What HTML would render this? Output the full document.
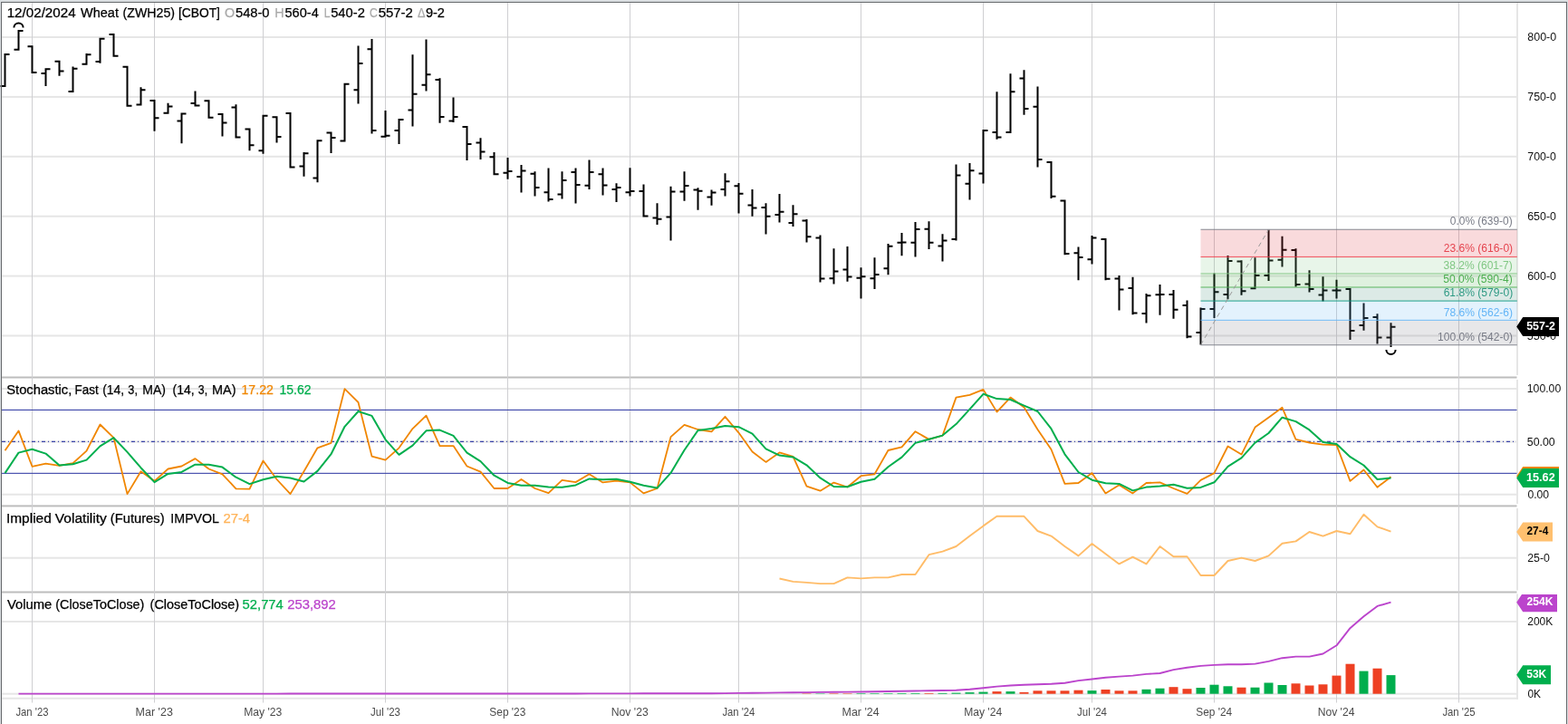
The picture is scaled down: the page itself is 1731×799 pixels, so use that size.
<!DOCTYPE html>
<html lang="en"><head><meta charset="utf-8"><title>Wheat (ZWH25) Chart</title>
<style>html,body{margin:0;padding:0;background:#fff;overflow:hidden}body{width:1731px;height:799px;font-family:"Liberation Sans",sans-serif}</style>
</head><body>
<svg width="1731" height="799" viewBox="0 0 1731 799" font-family="'Liberation Sans', sans-serif" style="display:block"><rect x="0" y="0" width="1731" height="799" fill="#ffffff"/>
<rect x="0" y="0" width="1731" height="2" fill="#dbdfe2"/>
<rect x="0" y="0" width="1" height="799" fill="#dbdfe2"/>
<rect x="1730" y="0" width="1" height="799" fill="#dbdfe2"/>
<rect x="2" y="40.0" width="1672.5" height="2" fill="#e6e6e6"/>
<rect x="2" y="105.9" width="1672.5" height="2" fill="#e6e6e6"/>
<rect x="2" y="171.8" width="1672.5" height="2" fill="#e6e6e6"/>
<rect x="2" y="237.7" width="1672.5" height="2" fill="#e6e6e6"/>
<rect x="2" y="303.6" width="1672.5" height="2" fill="#e6e6e6"/>
<rect x="2" y="369.5" width="1672.5" height="2" fill="#e6e6e6"/>
<rect x="2" y="428.0" width="1672.5" height="2" fill="#e6e6e6"/>
<rect x="2" y="486.5" width="1672.5" height="2" fill="#e6e6e6"/>
<rect x="2" y="544.7" width="1672.5" height="2" fill="#e6e6e6"/>
<rect x="2" y="614.7" width="1672.5" height="2" fill="#e6e6e6"/>
<rect x="2" y="685.0" width="1672.5" height="2" fill="#e6e6e6"/>
<rect x="2" y="764.7" width="1672.5" height="2" fill="#e6e6e6"/>
<rect x="2" y="415.5" width="1672.5" height="2" fill="#bdbdbd"/>
<rect x="2" y="557.4" width="1672.5" height="2" fill="#bdbdbd"/>
<rect x="2" y="652.5" width="1672.5" height="2" fill="#bdbdbd"/>
<rect x="2" y="769.7" width="1674" height="2" fill="#e6e6e6"/>
<rect x="1674" y="3" width="2" height="411" fill="#e6e6e6"/>
<rect x="1674" y="419" width="2" height="137" fill="#e6e6e6"/>
<rect x="1674" y="561" width="2" height="90.5" fill="#e6e6e6"/>
<rect x="1674" y="655.5" width="2" height="116.20000000000005" fill="#e6e6e6"/>
<rect x="35.0" y="3" width="1" height="772.5" fill="#cfcfd2"/>
<rect x="170.0" y="3" width="1" height="772.5" fill="#cfcfd2"/>
<rect x="290.0" y="3" width="1" height="772.5" fill="#cfcfd2"/>
<rect x="425.0" y="3" width="1" height="772.5" fill="#cfcfd2"/>
<rect x="560.0" y="3" width="1" height="772.5" fill="#cfcfd2"/>
<rect x="695.0" y="3" width="1" height="772.5" fill="#cfcfd2"/>
<rect x="815.0" y="3" width="1" height="772.5" fill="#cfcfd2"/>
<rect x="950.0" y="3" width="1" height="772.5" fill="#cfcfd2"/>
<rect x="1085.0" y="3" width="1" height="772.5" fill="#cfcfd2"/>
<rect x="1205.0" y="3" width="1" height="772.5" fill="#cfcfd2"/>
<rect x="1340.0" y="3" width="1" height="772.5" fill="#cfcfd2"/>
<rect x="1475.0" y="3" width="1" height="772.5" fill="#cfcfd2"/>
<rect x="1610.0" y="3" width="1" height="772.5" fill="#cfcfd2"/>
<rect x="2" y="451.9" width="1672.5" height="1.1" fill="#3b44a9"/>
<rect x="2" y="521.8" width="1672.5" height="1.1" fill="#3b44a9"/>
<line x1="2" y1="487.4" x2="1674" y2="487.4" stroke="#3b44a9" stroke-width="1.2" stroke-dasharray="4 3 1 3"/>
<path d="M5.5 59.5V95.4M0.5 95.0H6.5M4.5 60.0H10.5M20.5 33.0V55.5M15.5 54.7H21.5M19.5 33.9H25.5M35.5 50.8V80.7M30.5 51.2H36.5M34.5 80.1H40.5M50.5 75.5V94.9M45.5 81.0H51.5M49.5 76.3H55.5M65.5 67.1V83.8M60.5 67.8H66.5M64.5 78.4H70.5M80.5 73.4V101.5M75.5 100.9H81.5M79.5 75.8H85.5M95.5 59.0V71.5M90.5 70.8H96.5M94.5 60.2H100.5M110.5 41.7V69.7M105.5 68.0H111.5M109.5 42.7H115.5M125.5 37.3V62.5M120.5 38.0H126.5M124.5 61.8H130.5M140.5 72.9V117.4M135.5 73.7H141.5M139.5 116.7H145.5M155.5 96.3V116.2M150.5 115.5H156.5M154.5 99.2H160.5M170.5 110.1V144.8M165.5 111.0H171.5M169.5 130.2H175.5M185.5 113.8V125.4M180.5 124.7H186.5M184.5 117.6H190.5M200.5 124.7V158.3M195.5 133.4H201.5M199.5 125.4H205.5M215.5 100.5V117.3M210.5 114.0H216.5M214.5 116.6H220.5M230.5 110.7V130.3M225.5 111.2H231.5M229.5 129.7H235.5M245.5 125.4V150.5M240.5 125.9H246.5M244.5 135.5H250.5M260.5 115.2V152.3M255.5 118.5H261.5M259.5 151.6H265.5M275.5 141.9V166.3M270.5 142.4H276.5M274.5 160.2H280.5M290.5 127.1V169.8M285.5 166.3H291.5M289.5 127.8H295.5M305.5 128.5V157.5M300.5 129.2H306.5M304.5 151.1H310.5M320.5 124.5V185.2M315.5 125.1H321.5M319.5 184.5H325.5M335.5 168.0V194.7M330.5 183.6H336.5M334.5 169.3H340.5M350.5 154.5V201.3M345.5 196.5H351.5M349.5 155.2H355.5M365.5 145.9V168.9M360.5 146.6H366.5M364.5 151.9H370.5M380.5 92.1V156.6M375.5 155.4H381.5M379.5 92.8H385.5M395.5 50.5V114.4M390.5 99.3H396.5M394.5 69.9H400.5M410.5 43.0V147.5M405.5 54.3H411.5M409.5 143.9H415.5M425.5 121.9V151.3M420.5 150.8H426.5M424.5 149.8H430.5M440.5 131.4V159.1M435.5 143.9H441.5M439.5 132.1H445.5M455.5 60.3V139.5M450.5 121.5H456.5M454.5 103.7H460.5M470.5 43.5V100.5M465.5 93.8H471.5M469.5 82.2H475.5M485.5 86.3V135.7M480.5 88.1H486.5M484.5 129.0H490.5M500.5 107.5V134.9M495.5 133.5H501.5M499.5 129.0H505.5M515.5 139.2V176.9M510.5 139.9H516.5M514.5 159.0H520.5M530.5 152.3V176.1M525.5 157.4H531.5M529.5 167.4H535.5M545.5 167.9V192.7M540.5 173.3H546.5M544.5 192.2H550.5M560.5 174.0V197.7M555.5 190.8H561.5M559.5 189.1H565.5M575.5 182.1V212.5M570.5 195.1H576.5M574.5 188.4H580.5M590.5 189.2V216.5M585.5 191.7H591.5M589.5 206.9H595.5M605.5 185.6V222.5M600.5 212.3H606.5M604.5 220.1H610.5M620.5 189.2V219.6M615.5 214.5H621.5M619.5 199.0H625.5M635.5 185.4V224.6M630.5 189.9H636.5M634.5 204.0H640.5M650.5 176.6V209.0M645.5 204.8H651.5M649.5 189.9H655.5M665.5 185.4V215.6M660.5 192.2H666.5M664.5 204.5H670.5M680.5 202.2V223.0M675.5 209.0H681.5M679.5 206.9H685.5M695.5 185.3V216.5M690.5 212.3H696.5M694.5 211.1H700.5M710.5 203.5V239.0M705.5 211.1H711.5M709.5 238.5H715.5M725.5 224.3V248.0M720.5 240.5H726.5M724.5 241.8H730.5M740.5 205.7V265.5M735.5 239.5H741.5M739.5 211.6H745.5M755.5 189.2V221.7M750.5 211.6H756.5M754.5 205.0H760.5M770.5 207.3V231.7M765.5 209.5H771.5M769.5 210.7H775.5M785.5 209.4V226.7M780.5 217.6H786.5M784.5 212.6H790.5M800.5 191.3V216.6M795.5 209.0H801.5M799.5 200.2H805.5M815.5 201.9V235.5M810.5 205.2H816.5M814.5 213.7H820.5M830.5 209.0V238.7M825.5 226.5H831.5M829.5 229.5H835.5M845.5 224.3V258.6M840.5 229.0H846.5M844.5 238.8H850.5M860.5 214.0V245.6M855.5 236.9H861.5M859.5 233.8H865.5M875.5 226.2V249.9M870.5 245.9H876.5M874.5 236.2H880.5M890.5 241.9V267.5M885.5 243.4H891.5M889.5 261.3H895.5M905.5 259.4V311.6M900.5 262.4H906.5M904.5 307.4H910.5M920.5 274.3V313.4M915.5 307.2H921.5M919.5 299.5H925.5M935.5 272.1V310.7M930.5 297.4H936.5M934.5 305.6H940.5M950.5 295.2V329.5M945.5 306.8H951.5M949.5 305.3H955.5M965.5 284.3V319.1M960.5 307.2H966.5M964.5 303.1H970.5M980.5 268.9V303.3M975.5 296.3H981.5M979.5 271.8H985.5M995.5 257.0V282.2M990.5 267.7H996.5M994.5 267.5H1000.5M1010.5 244.9V283.6M1005.5 267.7H1011.5M1009.5 253.1H1015.5M1025.5 244.3V274.9M1020.5 252.7H1026.5M1024.5 267.7H1030.5M1040.5 258.3V288.5M1035.5 271.4H1041.5M1039.5 265.6H1045.5M1055.5 181.5V265.4M1050.5 264.0H1056.5M1054.5 193.5H1060.5M1070.5 180.1V220.6M1065.5 202.7H1071.5M1069.5 188.2H1075.5M1085.5 143.3V202.5M1080.5 191.4H1086.5M1084.5 144.0H1090.5M1100.5 101.2V153.7M1095.5 145.9H1101.5M1099.5 151.5H1105.5M1115.5 81.3V146.3M1110.5 145.9H1116.5M1114.5 101.2H1120.5M1130.5 77.3V126.8M1125.5 86.6H1131.5M1129.5 120.1H1135.5M1145.5 95.6V184.5M1140.5 117.7H1146.5M1144.5 176.0H1150.5M1160.5 178.5V219.0M1155.5 179.0H1161.5M1159.5 216.8H1165.5M1175.5 221.1V281.2M1170.5 221.6H1176.5M1174.5 280.0H1180.5M1190.5 272.4V309.2M1185.5 279.2H1191.5M1189.5 284.0H1195.5M1205.5 260.1V291.4M1200.5 286.3H1206.5M1204.5 262.4H1210.5M1220.5 263.4V309.2M1215.5 264.0H1221.5M1219.5 307.8H1225.5M1235.5 304.0V342.5M1230.5 307.5H1236.5M1234.5 319.6H1240.5M1250.5 305.7V347.3M1245.5 317.9H1251.5M1249.5 345.6H1255.5M1265.5 323.9V356.5M1260.5 346.1H1266.5M1264.5 326.2H1270.5M1280.5 314.0V347.8M1275.5 325.3H1281.5M1279.5 325.0H1285.5M1295.5 319.9V351.7M1290.5 325.1H1296.5M1294.5 341.8H1300.5M1310.5 331.4V373.3M1305.5 336.9H1311.5M1309.5 371.6H1315.5M1325.5 339.5V380.6M1320.5 366.9H1326.5M1324.5 340.9H1330.5M1340.5 301.4V351.1M1335.5 340.9H1341.5M1339.5 322.2H1345.5M1355.5 282.0V330.3M1350.5 325.0H1356.5M1354.5 288.0H1360.5M1370.5 287.2V325.7M1365.5 288.6H1371.5M1369.5 321.2H1375.5M1385.5 284.3V319.1M1380.5 318.3H1386.5M1384.5 304.1H1390.5M1400.5 253.6V310.0M1395.5 304.1H1401.5M1399.5 287.6H1405.5M1415.5 260.8V294.5M1410.5 286.8H1416.5M1414.5 275.8H1420.5M1430.5 274.2V316.4M1425.5 275.9H1431.5M1429.5 314.0H1435.5M1445.5 298.3V322.6M1440.5 313.6H1446.5M1444.5 319.0H1450.5M1460.5 305.3V332.5M1455.5 325.6H1461.5M1459.5 320.4H1465.5M1475.5 308.8V329.6M1470.5 320.4H1476.5M1474.5 320.4H1480.5M1490.5 318.4V374.9M1485.5 318.9H1491.5M1489.5 364.9H1495.5M1505.5 334.5V364.7M1500.5 359.1H1506.5M1504.5 350.9H1510.5M1520.5 346.2V379.5M1515.5 350.1H1521.5M1519.5 372.6H1525.5M1535.5 356.2V383.0M1530.5 372.6H1536.5M1534.5 360.7H1540.5" stroke="#000" stroke-width="2" fill="none"/>
<path d="M15.4 30.6A5.1 5.1 0 0 1 25.6 30.6" stroke="#000" stroke-width="2" fill="none"/>
<path d="M1530.4 385.9A5.1 5.1 0 0 0 1540.6 385.9" stroke="#000" stroke-width="2" fill="none"/>
<rect x="1325.5" y="253.3" width="349.3" height="30.2" fill="#e0323d" fill-opacity="0.18"/>
<rect x="1325.5" y="283.5" width="349.3" height="18.4" fill="#81c784" fill-opacity="0.18"/>
<rect x="1325.5" y="301.9" width="349.3" height="15.1" fill="#4caf50" fill-opacity="0.18"/>
<rect x="1325.5" y="317" width="349.3" height="15.1" fill="#3c8a74" fill-opacity="0.18"/>
<rect x="1325.5" y="332.1" width="349.3" height="21.3" fill="#64b5f6" fill-opacity="0.18"/>
<rect x="1325.5" y="353.4" width="349.3" height="27.3" fill="#787b86" fill-opacity="0.18"/>
<rect x="1325.5" y="252.7" width="349.3" height="1.2" fill="#787b86" fill-opacity="0.75"/>
<rect x="1325.5" y="282.9" width="349.3" height="1.2" fill="#f23645" fill-opacity="0.75"/>
<rect x="1325.5" y="301.3" width="349.3" height="1.2" fill="#81c784" fill-opacity="0.75"/>
<rect x="1325.5" y="316.4" width="349.3" height="1.2" fill="#4caf50" fill-opacity="0.75"/>
<rect x="1325.5" y="331.5" width="349.3" height="1.2" fill="#089981" fill-opacity="0.75"/>
<rect x="1325.5" y="352.8" width="349.3" height="1.2" fill="#64b5f6" fill-opacity="0.75"/>
<rect x="1325.5" y="380.1" width="349.3" height="1.2" fill="#787b86" fill-opacity="0.75"/>
<line x1="1325.5" y1="380.6" x2="1400.5" y2="253.4" stroke="#9a9a9a" stroke-width="1" stroke-dasharray="5 4"/>
<polyline points="5.5,497.2 20.5,475.4 35.5,514.8 50.5,511.6 65.5,513.9 80.5,511.2 95.5,497.6 110.5,468.5 125.5,483.1 140.5,545.1 155.5,520.3 170.5,530.8 185.5,517.5 200.5,514.5 215.5,506.1 230.5,517.5 245.5,523.3 260.5,539.3 275.5,539.7 290.5,508.5 305.5,529.0 320.5,545.1 335.5,520.3 350.5,494.3 365.5,488.9 380.5,429.2 395.5,444.0 410.5,503.6 425.5,507.6 440.5,494.3 455.5,473.1 470.5,458.6 485.5,492.1 500.5,492.1 515.5,514.5 530.5,520.6 545.5,539.0 560.5,539.0 575.5,529.0 590.5,539.0 605.5,544.2 620.5,529.9 635.5,532.1 650.5,523.3 665.5,532.4 680.5,530.6 695.5,532.4 710.5,544.4 725.5,539.0 740.5,482.2 755.5,468.9 770.5,474.0 785.5,476.3 800.5,459.8 815.5,477.6 830.5,498.5 845.5,509.9 860.5,499.4 875.5,503.9 890.5,536.6 905.5,541.7 920.5,532.6 935.5,537.5 950.5,525.2 965.5,523.3 980.5,497.0 995.5,493.4 1010.5,476.2 1025.5,484.9 1040.5,480.7 1055.5,438.6 1070.5,435.9 1085.5,429.9 1100.5,454.6 1115.5,438.6 1130.5,449.5 1145.5,474.0 1160.5,496.0 1175.5,533.9 1190.5,533.0 1205.5,522.1 1220.5,544.4 1235.5,535.3 1250.5,544.4 1265.5,533.0 1280.5,532.4 1295.5,539.0 1310.5,544.8 1325.5,529.9 1340.5,522.1 1355.5,492.5 1370.5,501.6 1385.5,471.6 1400.5,460.7 1415.5,449.8 1430.5,484.9 1445.5,488.5 1460.5,490.7 1475.5,491.1 1490.5,530.9 1505.5,518.5 1520.5,537.7 1535.5,526.2" stroke="#f08600" stroke-width="1.8" fill="none" stroke-linejoin="round"/>
<polyline points="5.5,522.1 20.5,499.6 35.5,495.8 50.5,500.6 65.5,513.4 80.5,512.2 95.5,507.6 110.5,492.4 125.5,483.1 140.5,498.9 155.5,516.2 170.5,532.1 185.5,522.9 200.5,520.9 215.5,512.7 230.5,512.7 245.5,515.6 260.5,526.7 275.5,534.1 290.5,529.2 305.5,525.7 320.5,527.5 335.5,531.5 350.5,519.9 365.5,501.2 380.5,470.8 395.5,454.0 410.5,458.9 425.5,485.1 440.5,501.8 455.5,491.7 470.5,475.3 485.5,474.6 500.5,480.9 515.5,499.6 530.5,509.1 545.5,524.7 560.5,532.9 575.5,535.7 590.5,535.7 605.5,537.4 620.5,537.7 635.5,535.4 650.5,528.4 665.5,529.3 680.5,528.8 695.5,531.8 710.5,535.8 725.5,538.6 740.5,521.9 755.5,496.7 770.5,475.0 785.5,473.1 800.5,470.0 815.5,471.2 830.5,478.6 845.5,495.3 860.5,502.6 875.5,504.4 890.5,513.3 905.5,527.4 920.5,537.0 935.5,537.3 950.5,531.8 965.5,528.7 980.5,515.2 995.5,504.6 1010.5,488.9 1025.5,484.8 1040.5,480.6 1055.5,468.1 1070.5,451.7 1085.5,434.8 1100.5,440.1 1115.5,441.0 1130.5,447.6 1145.5,454.0 1160.5,473.2 1175.5,501.3 1190.5,521.0 1205.5,529.7 1220.5,533.2 1235.5,533.9 1250.5,541.4 1265.5,537.6 1280.5,536.6 1295.5,534.8 1310.5,538.7 1325.5,537.9 1340.5,532.3 1355.5,514.8 1370.5,505.4 1385.5,488.6 1400.5,478.0 1415.5,460.7 1430.5,465.1 1445.5,474.4 1460.5,488.0 1475.5,490.1 1490.5,504.2 1505.5,513.5 1520.5,529.0 1535.5,527.5" stroke="#00ae4d" stroke-width="2.0" fill="none" stroke-linejoin="round"/>
<polyline points="860.5,638.5 875.5,641.9 890.5,642.9 905.5,644.1 920.5,644.1 935.5,637.4 950.5,638.4 965.5,637.4 980.5,637.4 995.5,634.0 1010.5,634.0 1025.5,612.2 1040.5,608.6 1055.5,603.0 1070.5,591.6 1085.5,580.4 1100.5,569.8 1115.5,569.8 1130.5,569.8 1145.5,586.0 1160.5,591.6 1175.5,603.0 1190.5,613.4 1205.5,600.0 1220.5,611.2 1235.5,622.4 1250.5,614.6 1265.5,622.4 1280.5,603.0 1295.5,614.2 1310.5,614.2 1325.5,635.0 1340.5,635.0 1355.5,619.0 1370.5,615.6 1385.5,619.0 1400.5,613.4 1415.5,599.8 1430.5,597.4 1445.5,587.0 1460.5,591.6 1475.5,586.0 1490.5,589.2 1505.5,567.8 1520.5,581.4 1535.5,586.6" stroke="#ffbc68" stroke-width="1.9" fill="none" stroke-linejoin="round"/>
<rect x="885.5" y="765.3" width="10" height="0.4" fill="#ee4023"/>
<rect x="900.5" y="765.3" width="10" height="0.4" fill="#00ae4d"/>
<rect x="915.5" y="765.2" width="10" height="0.5" fill="#ee4023"/>
<rect x="930.5" y="765.2" width="10" height="0.5" fill="#ee4023"/>
<rect x="945.5" y="765.1" width="10" height="0.6" fill="#00ae4d"/>
<rect x="960.5" y="765.1" width="10" height="0.6" fill="#00ae4d"/>
<rect x="975.5" y="765.1" width="10" height="0.6" fill="#00ae4d"/>
<rect x="990.5" y="765.0" width="10" height="0.7" fill="#00ae4d"/>
<rect x="1005.5" y="765.0" width="10" height="0.7" fill="#00ae4d"/>
<rect x="1020.5" y="765.0" width="10" height="0.7" fill="#ee4023"/>
<rect x="1035.5" y="764.9" width="10" height="0.8" fill="#00ae4d"/>
<rect x="1050.5" y="764.6" width="10" height="1.1" fill="#00ae4d"/>
<rect x="1065.5" y="764.1" width="10" height="1.6" fill="#00ae4d"/>
<rect x="1080.5" y="763.6" width="10" height="2.1" fill="#00ae4d"/>
<rect x="1095.5" y="763.1" width="10" height="2.6" fill="#ee4023"/>
<rect x="1110.5" y="763.1" width="10" height="2.6" fill="#00ae4d"/>
<rect x="1125.5" y="763.9" width="10" height="1.8" fill="#ee4023"/>
<rect x="1140.5" y="762.3" width="10" height="3.4" fill="#ee4023"/>
<rect x="1155.5" y="762.3" width="10" height="3.4" fill="#ee4023"/>
<rect x="1170.5" y="762.3" width="10" height="3.4" fill="#ee4023"/>
<rect x="1185.5" y="761.7" width="10" height="4.0" fill="#ee4023"/>
<rect x="1200.5" y="762.1" width="10" height="3.6" fill="#00ae4d"/>
<rect x="1215.5" y="761.0" width="10" height="4.7" fill="#ee4023"/>
<rect x="1230.5" y="762.3" width="10" height="3.4" fill="#ee4023"/>
<rect x="1245.5" y="762.3" width="10" height="3.4" fill="#ee4023"/>
<rect x="1260.5" y="760.8" width="10" height="4.9" fill="#00ae4d"/>
<rect x="1275.5" y="759.7" width="10" height="6.0" fill="#00ae4d"/>
<rect x="1290.5" y="758.2" width="10" height="7.5" fill="#ee4023"/>
<rect x="1305.5" y="760.2" width="10" height="5.5" fill="#ee4023"/>
<rect x="1320.5" y="759.0" width="10" height="6.7" fill="#00ae4d"/>
<rect x="1335.5" y="755.7" width="10" height="10.0" fill="#00ae4d"/>
<rect x="1350.5" y="757.3" width="10" height="8.4" fill="#00ae4d"/>
<rect x="1365.5" y="758.7" width="10" height="7.0" fill="#ee4023"/>
<rect x="1380.5" y="758.7" width="10" height="7.0" fill="#00ae4d"/>
<rect x="1395.5" y="753.5" width="10" height="12.2" fill="#00ae4d"/>
<rect x="1410.5" y="756.0" width="10" height="9.7" fill="#00ae4d"/>
<rect x="1425.5" y="754.3" width="10" height="11.4" fill="#ee4023"/>
<rect x="1440.5" y="756.5" width="10" height="9.2" fill="#ee4023"/>
<rect x="1455.5" y="755.3" width="10" height="10.4" fill="#ee4023"/>
<rect x="1470.5" y="745.6" width="10" height="20.1" fill="#ee4023"/>
<rect x="1485.5" y="732.7" width="10" height="33.0" fill="#ee4023"/>
<rect x="1500.5" y="740.6" width="10" height="25.1" fill="#00ae4d"/>
<rect x="1515.5" y="737.7" width="10" height="28.0" fill="#ee4023"/>
<rect x="1530.5" y="745.1" width="10" height="20.6" fill="#00ae4d"/>
<polyline points="20.5,765.6 35.5,765.6 50.5,765.6 65.5,765.6 80.5,765.6 95.5,765.6 110.5,765.6 125.5,765.6 140.5,765.6 155.5,765.6 170.5,765.6 185.5,765.6 200.5,765.6 215.5,765.6 230.5,765.6 245.5,765.6 260.5,765.6 275.5,765.6 290.5,765.6 305.5,765.6 320.5,765.5 335.5,765.5 350.5,765.5 365.5,765.5 380.5,765.5 395.5,765.5 410.5,765.5 425.5,765.5 440.5,765.5 455.5,765.5 470.5,765.5 485.5,765.5 500.5,765.5 515.5,765.5 530.5,765.5 545.5,765.5 560.5,765.5 575.5,765.5 590.5,765.5 605.5,765.5 620.5,765.5 635.5,765.5 650.5,765.4 665.5,765.4 680.5,765.4 695.5,765.4 710.5,765.3 725.5,765.3 740.5,765.3 755.5,765.2 770.5,765.2 785.5,765.2 800.5,765.1 815.5,764.9 830.5,764.8 845.5,764.6 860.5,764.4 875.5,764.2 890.5,764.1 905.5,763.9 920.5,763.8 935.5,763.6 950.5,763.5 965.5,763.3 980.5,763.0 995.5,762.8 1010.5,762.5 1025.5,762.2 1040.5,762.0 1055.5,761.7 1070.5,760.7 1085.5,759.2 1100.5,757.6 1115.5,756.5 1130.5,755.8 1145.5,755.2 1160.5,754.7 1175.5,753.7 1190.5,751.1 1205.5,749.5 1220.5,747.7 1235.5,746.6 1250.5,745.6 1265.5,743.9 1280.5,743.0 1295.5,739.1 1310.5,736.8 1325.5,734.9 1340.5,733.9 1355.5,733.3 1370.5,733.3 1385.5,732.6 1400.5,729.9 1415.5,726.2 1430.5,724.6 1445.5,724.6 1460.5,721.5 1475.5,712.3 1490.5,693.2 1505.5,680.2 1520.5,668.9 1535.5,664.7" stroke="#bb44cc" stroke-width="1.9" fill="none" stroke-linejoin="round"/>
<text font-size="12" x="1685.80" y="374.9" textLength="32.12" lengthAdjust="spacingAndGlyphs" fill="#111">550-0</text>
<path d="M1674.2 360.4L1681.2 349.9H1721V370.9H1681.2Z" fill="#000"/>
<path d="M1674.2 525.6L1681.2 515.1H1721V536.1H1681.2Z" fill="#f08600"/>
<path d="M1674.2 527.4L1681.2 516.9H1721V537.9H1681.2Z" fill="#00ae4d"/>
<path d="M1674.2 587L1681.2 576.5H1714V597.5H1681.2Z" fill="#ffc06f"/>
<path d="M1674.2 664.7L1680.0 656H1719V675.2H1681.2Z" fill="#bb44cc"/>
<path d="M1674.2 744.8L1681.2 734.3H1712V755.3H1681.2Z" fill="#00ae4d"/>
<rect x="1" y="2" width="1729" height="1" fill="#65686b"/>
<rect x="1" y="2" width="1" height="799" fill="#65686b"/>
<rect x="1729" y="2" width="1" height="799" fill="#65686b"/>
<text font-size="14" y="18.8"><tspan x="7.70" stroke="#000" stroke-width="0.25" textLength="75.91" lengthAdjust="spacingAndGlyphs" fill="#000">12/02/2024</tspan> <tspan x="89.08" stroke="#000" stroke-width="0.25" textLength="41.85" lengthAdjust="spacingAndGlyphs" fill="#000">Wheat</tspan> <tspan x="135.50" stroke="#000" stroke-width="0.25" textLength="57.52" lengthAdjust="spacingAndGlyphs" fill="#000">(ZWH25)</tspan> <tspan x="196.90" stroke="#000" stroke-width="0.25" textLength="46.05" lengthAdjust="spacingAndGlyphs" fill="#000">[CBOT]</tspan> <tspan x="248.06" stroke="#aaaaaa" stroke-width="0.25" textLength="11.12" lengthAdjust="spacingAndGlyphs" fill="#aaaaaa">O</tspan><tspan x="260.00" stroke="#000" stroke-width="0.25" textLength="37.54" lengthAdjust="spacingAndGlyphs" fill="#000">548-0</tspan> <tspan x="303.20" stroke="#aaaaaa" stroke-width="0.25" textLength="10.37" lengthAdjust="spacingAndGlyphs" fill="#aaaaaa">H</tspan><tspan x="314.50" stroke="#000" stroke-width="0.25" textLength="37.26" lengthAdjust="spacingAndGlyphs" fill="#000">560-4</tspan> <tspan x="357.80" stroke="#aaaaaa" stroke-width="0.25" textLength="6.72" lengthAdjust="spacingAndGlyphs" fill="#aaaaaa">L</tspan><tspan x="365.20" stroke="#000" stroke-width="0.25" textLength="37.63" lengthAdjust="spacingAndGlyphs" fill="#000">540-2</tspan> <tspan x="407.93" stroke="#aaaaaa" stroke-width="0.25" textLength="8.82" lengthAdjust="spacingAndGlyphs" fill="#aaaaaa">C</tspan><tspan x="417.70" stroke="#000" stroke-width="0.25" textLength="38.13" lengthAdjust="spacingAndGlyphs" fill="#000">557-2</tspan> <tspan x="460.88" stroke="#aaaaaa" stroke-width="0.25" textLength="8.46" lengthAdjust="spacingAndGlyphs" fill="#aaaaaa">Δ</tspan><tspan x="469.90" stroke="#000" stroke-width="0.25" textLength="21.03" lengthAdjust="spacingAndGlyphs" fill="#000">9-2</tspan></text>
<text font-size="14" y="434.6"><tspan x="7.30" stroke="#000" stroke-width="0.25" textLength="71.93" lengthAdjust="spacingAndGlyphs" fill="#000">Stochastic,</tspan> <tspan x="82.60" stroke="#000" stroke-width="0.25" textLength="26.01" lengthAdjust="spacingAndGlyphs" fill="#000">Fast</tspan> <tspan x="113.20" stroke="#000" stroke-width="0.25" textLength="24.02" lengthAdjust="spacingAndGlyphs" fill="#000">(14,</tspan> <tspan x="141.33" stroke="#000" stroke-width="0.25" textLength="10.60" lengthAdjust="spacingAndGlyphs" fill="#000">3,</tspan> <tspan x="157.30" stroke="#000" stroke-width="0.25" textLength="25.66" lengthAdjust="spacingAndGlyphs" fill="#000">MA)</tspan> <tspan x="190.60" stroke="#000" stroke-width="0.25" textLength="24.02" lengthAdjust="spacingAndGlyphs" fill="#000">(14,</tspan> <tspan x="218.86" stroke="#000" stroke-width="0.25" textLength="10.21" lengthAdjust="spacingAndGlyphs" fill="#000">3,</tspan> <tspan x="234.10" stroke="#000" stroke-width="0.25" textLength="26.47" lengthAdjust="spacingAndGlyphs" fill="#000">MA)</tspan> <tspan x="266.50" stroke="#f08600" stroke-width="0.25" textLength="35.40" lengthAdjust="spacingAndGlyphs" fill="#f08600">17.22</tspan> <tspan x="308.50" stroke="#00ae4d" stroke-width="0.25" textLength="34.99" lengthAdjust="spacingAndGlyphs" fill="#00ae4d">15.62</tspan></text>
<text font-size="14" y="576.6"><tspan x="6.90" stroke="#000" stroke-width="0.25" textLength="49.91" lengthAdjust="spacingAndGlyphs" fill="#000">Implied</tspan> <tspan x="60.89" stroke="#000" stroke-width="0.25" textLength="56.93" lengthAdjust="spacingAndGlyphs" fill="#000">Volatility</tspan> <tspan x="121.80" stroke="#000" stroke-width="0.25" textLength="59.79" lengthAdjust="spacingAndGlyphs" fill="#000">(Futures)</tspan> <tspan x="188.37" stroke="#000" stroke-width="0.25" textLength="53.12" lengthAdjust="spacingAndGlyphs" fill="#000">IMPVOL</tspan> <tspan x="246.40" stroke="#ffb45a" stroke-width="0.25" textLength="29.75" lengthAdjust="spacingAndGlyphs" fill="#ffb45a">27-4</tspan></text>
<text font-size="14" y="671.6"><tspan x="7.91" stroke="#000" stroke-width="0.25" textLength="49.40" lengthAdjust="spacingAndGlyphs" fill="#000">Volume</tspan> <tspan x="61.30" stroke="#000" stroke-width="0.25" textLength="98.02" lengthAdjust="spacingAndGlyphs" fill="#000">(CloseToClose)</tspan> <tspan x="165.60" stroke="#000" stroke-width="0.25" textLength="98.55" lengthAdjust="spacingAndGlyphs" fill="#000">(CloseToClose)</tspan> <tspan x="267.60" stroke="#00ae4d" stroke-width="0.25" textLength="45.21" lengthAdjust="spacingAndGlyphs" fill="#00ae4d">52,774</tspan> <tspan x="317.20" stroke="#bb44cc" stroke-width="0.25" textLength="53.56" lengthAdjust="spacingAndGlyphs" fill="#bb44cc">253,892</tspan></text>
<text font-size="12" x="17.42" y="790.0" textLength="36.09" lengthAdjust="spacingAndGlyphs" fill="#4a4a4a">Jan '23</text>
<text font-size="12" x="149.60" y="790.0" textLength="41.31" lengthAdjust="spacingAndGlyphs" fill="#4a4a4a">Mar '23</text>
<text font-size="12" x="269.20" y="790.0" textLength="42.21" lengthAdjust="spacingAndGlyphs" fill="#4a4a4a">May '23</text>
<text font-size="12" x="409.11" y="790.0" textLength="32.87" lengthAdjust="spacingAndGlyphs" fill="#4a4a4a">Jul '23</text>
<text font-size="12" x="540.35" y="790.0" textLength="39.99" lengthAdjust="spacingAndGlyphs" fill="#4a4a4a">Sep '23</text>
<text font-size="12" x="674.70" y="790.0" textLength="41.02" lengthAdjust="spacingAndGlyphs" fill="#4a4a4a">Nov '23</text>
<text font-size="12" x="797.41" y="790.0" textLength="35.91" lengthAdjust="spacingAndGlyphs" fill="#4a4a4a">Jan '24</text>
<text font-size="12" x="929.60" y="790.0" textLength="41.04" lengthAdjust="spacingAndGlyphs" fill="#4a4a4a">Mar '24</text>
<text font-size="12" x="1064.20" y="790.0" textLength="41.95" lengthAdjust="spacingAndGlyphs" fill="#4a4a4a">May '24</text>
<text font-size="12" x="1189.11" y="790.0" textLength="32.85" lengthAdjust="spacingAndGlyphs" fill="#4a4a4a">Jul '24</text>
<text font-size="12" x="1320.35" y="790.0" textLength="39.88" lengthAdjust="spacingAndGlyphs" fill="#4a4a4a">Sep '24</text>
<text font-size="12" x="1454.70" y="790.0" textLength="40.69" lengthAdjust="spacingAndGlyphs" fill="#4a4a4a">Nov '24</text>
<text font-size="12" x="1592.41" y="790.0" textLength="36.09" lengthAdjust="spacingAndGlyphs" fill="#4a4a4a">Jan '25</text>
<text font-size="12" x="1686.32" y="45.4" textLength="31.91" lengthAdjust="spacingAndGlyphs" fill="#111">800-0</text>
<text font-size="12" x="1686.27" y="111.3" textLength="31.60" lengthAdjust="spacingAndGlyphs" fill="#111">750-0</text>
<text font-size="12" x="1686.27" y="177.2" textLength="31.60" lengthAdjust="spacingAndGlyphs" fill="#111">700-0</text>
<text font-size="12" x="1686.22" y="243.1" textLength="31.73" lengthAdjust="spacingAndGlyphs" fill="#111">650-0</text>
<text font-size="12" x="1686.22" y="309.0" textLength="31.73" lengthAdjust="spacingAndGlyphs" fill="#111">600-0</text>
<text font-size="12" x="1685.80" y="433.1" textLength="37.44" lengthAdjust="spacingAndGlyphs" fill="#111">100.00</text>
<text font-size="12" x="1685.80" y="491.9" textLength="30.93" lengthAdjust="spacingAndGlyphs" fill="#111">50.00</text>
<text font-size="12" x="1686.42" y="549.9" textLength="23.73" lengthAdjust="spacingAndGlyphs" fill="#111">0.00</text>
<text font-size="12" x="1686.26" y="620.1" textLength="24.68" lengthAdjust="spacingAndGlyphs" fill="#111">25-0</text>
<text font-size="12" x="1686.27" y="690.1" textLength="27.99" lengthAdjust="spacingAndGlyphs" fill="#111">200K</text>
<text font-size="12" x="1686.44" y="770.0" textLength="14.59" lengthAdjust="spacingAndGlyphs" fill="#111">0K</text>
<text font-size="12" x="1685.22" y="364.2" font-weight="bold" textLength="31.72" lengthAdjust="spacingAndGlyphs" fill="#fff">557-2</text>
<text font-size="12" x="1685.00" y="530.8" font-weight="bold" textLength="31.71" lengthAdjust="spacingAndGlyphs" fill="#fff">15.62</text>
<text font-size="12" x="1685.53" y="589.8" font-weight="bold" textLength="23.75" lengthAdjust="spacingAndGlyphs" fill="#000">27-4</text>
<text font-size="12" x="1685.52" y="668.0" font-weight="bold" textLength="28.83" lengthAdjust="spacingAndGlyphs" fill="#fff">254K</text>
<text font-size="12" x="1685.24" y="748.0" font-weight="bold" textLength="22.01" lengthAdjust="spacingAndGlyphs" fill="#fff">53K</text>
<text font-size="12" x="1600.84" y="247.8" textLength="68.84" lengthAdjust="spacingAndGlyphs" fill="#787b86">0.0% (639-0)</text>
<text font-size="12" x="1593.68" y="277.5" textLength="76.44" lengthAdjust="spacingAndGlyphs" fill="#e5454f">23.6% (616-0)</text>
<text font-size="12" x="1593.59" y="296.5" textLength="76.13" lengthAdjust="spacingAndGlyphs" fill="#81c784">38.2% (601-7)</text>
<text font-size="12" x="1593.20" y="312.0" textLength="76.61" lengthAdjust="spacingAndGlyphs" fill="#4caf50">50.0% (590-4)</text>
<text font-size="12" x="1593.65" y="326.5" textLength="76.53" lengthAdjust="spacingAndGlyphs" fill="#2f9a84">61.8% (579-0)</text>
<text font-size="12" x="1593.69" y="348.7" textLength="76.38" lengthAdjust="spacingAndGlyphs" fill="#64b5f6">78.6% (562-6)</text>
<text font-size="12" x="1587.10" y="375.6" textLength="83.02" lengthAdjust="spacingAndGlyphs" fill="#787b86">100.0% (542-0)</text></svg>
</body></html>
